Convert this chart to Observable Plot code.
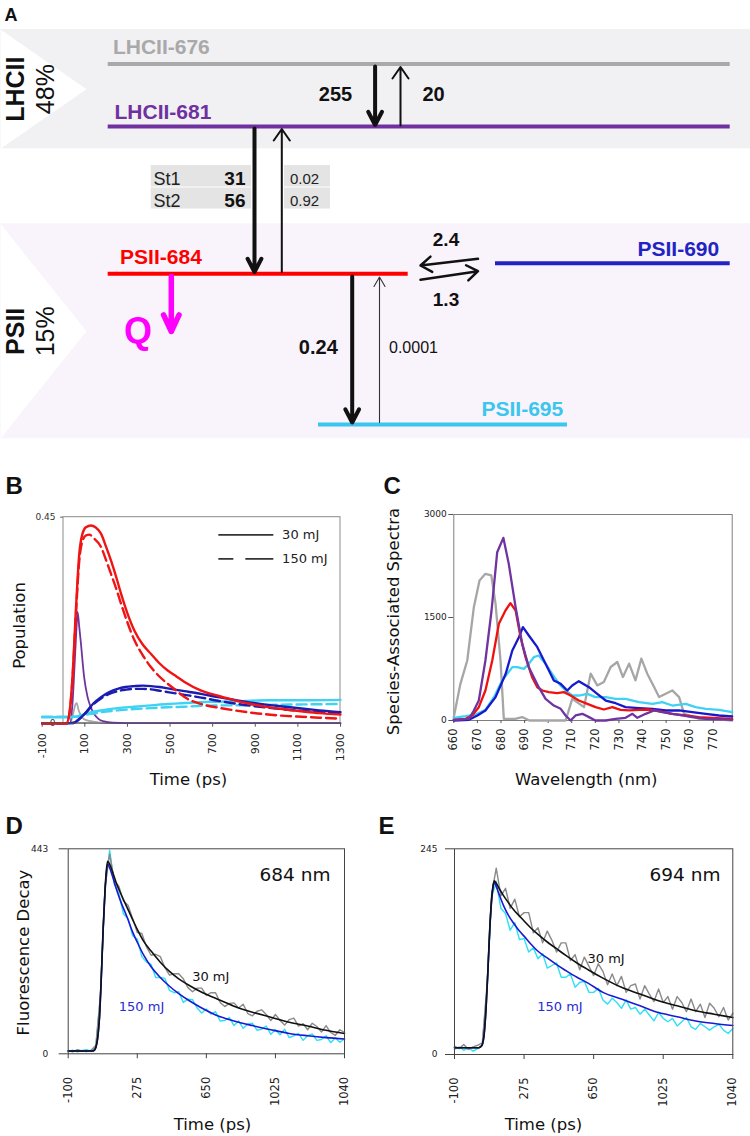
<!DOCTYPE html>
<html><head><meta charset="utf-8">
<script src="https://cdn.jsdelivr.net/npm/d3@7"></script>
<script src="https://cdn.jsdelivr.net/npm/@observablehq/plot@0.6"></script>
<style>
body{margin:0;background:#fff;}
#fig{position:relative;width:750px;height:1136px;overflow:hidden;background:#fff;}
#fig > div{position:absolute;}
</style></head><body><div id="fig"></div>
<script>
// ================= DATA =================
// ---- Panel A (kinetic scheme) ----
const levelNames  = ["LHCII-676","LHCII-681","PSII-684","PSII-690","PSII-695"];
const levelColors = ["#a9a9a9","#7030a0","#ff0000","#2323c4","#3ac6ee"];
const levelY  = [63.5, 126, 273.3, 262.7, 424];
const levelX1 = [107.7, 107.7, 107.7, 495, 318];
const levelX2 = [729.7, 729.7, 407.7, 729.7, 567];
const labelX  = [112.4, 114, 119.6, 718.7, 481];
const labelY  = [53.3, 118.5, 263.5, 255, 415];
const labelAnchor = ["start","start","start","end","start"];

const bandNames  = ["LHCII","PSII"];
const bandShares = ["48%","15%"];
const bandTop    = [29, 223.3];
const bandBottom = [148.3, 438.3];
const bandFill   = ["#f1f0f3","#f9f3fb"];

const arrowFrom  = [[374.6,66],[400,125],[254,128],[281.3,271.5],[351.7,276],[379,422],[170.8,276],[477.5,258.3],[420,279.3]];
const arrowTo    = [[374.6,124.5],[400,66.5],[254,271.5],[281.3,128.5],[351.7,422],[379,276.5],[170.8,331],[420,265],[477.5,270.7]];
const arrowWidth = [4,2,4,2,4,1.1,5.5,2.5,2.5];
const arrowHead  = [5.6,10.5,5.6,10.5,5.6,15,6.5,8,8];
const arrowAngle = [55,70,55,70,55,60,50,70,70];
const arrowColor = ["#111","#111","#111","#111","#111","#333","#ff00ff","#111","#111"];

const rateText   = ["255","20","2.4","1.3","0.24","0.0001"];
const rateX      = [351.7, 422, 445.5, 445.5, 337.3, 388.5];
const rateY      = [100, 100, 245, 305, 353, 352];
const rateAnchor = ["end","start","middle","middle","end","start"];
const rateWeight = ["bold","bold","bold","bold","bold","normal"];
const rateSize   = [20,20,19,19,20,16];

const stateNames = ["St1","St2"];
const stateDown  = ["31","56"];
const stateUp    = ["0.02","0.92"];
const rowTop     = [165, 187.5];
const rowBottom  = [186.5, 208.5];

// ---- Panel B (populations) ----
const bTicks = [-100,100,300,500,700,900,1100,1300];
const bYTicks = [0, 0.45];
const b684T30  = [-100,15,30,42,58,74,89,105,129,150,176,200,223,250,270,300,333,370,411,450,489,530,568,646,725,803,880,960,1040,1117,1200,1300];
const b684_30  = [0,0,0.03,0.10,0.246,0.37,0.414,0.428,0.432,0.428,0.414,0.385,0.355,0.315,0.283,0.24,0.202,0.173,0.151,0.131,0.115,0.102,0.090,0.071,0.060,0.050,0.042,0.035,0.030,0.026,0.022,0.019];
const b684T150 = [-100,15,30,42,58,74,89,105,121,140,176,200,223,250,270,300,333,370,411,450,489,530,568,646,725,803,880,960,1040,1117,1200,1300];
const b684_150 = [0,0,0.028,0.095,0.235,0.355,0.398,0.41,0.412,0.405,0.385,0.356,0.326,0.29,0.261,0.22,0.181,0.15,0.122,0.102,0.086,0.071,0.057,0.042,0.034,0.028,0.023,0.019,0.016,0.014,0.012,0.010];
const b690T    = [-100,30,50,66,90,113,140,176,215,254,290,333,372,411,450,489,568,646,725,803,880,960,1040,1117,1200,1300];
const b690_30  = [0,0,0.001,0.006,0.016,0.028,0.043,0.057,0.068,0.075,0.079,0.081,0.082,0.081,0.079,0.076,0.070,0.064,0.057,0.051,0.045,0.040,0.036,0.032,0.028,0.024];
const b690_150 = [0,0,0.001,0.006,0.016,0.027,0.041,0.054,0.064,0.070,0.073,0.075,0.075,0.074,0.071,0.068,0.062,0.056,0.049,0.043,0.038,0.034,0.030,0.027,0.024,0.022];
const b695T    = [-100,0,30,50,66,97,140,176,254,333,411,489,568,646,725,803,960,1117,1300];
const b695_30  = [0.013,0.013,0.013,0.014,0.015,0.020,0.025,0.028,0.033,0.036,0.039,0.042,0.044,0.046,0.047,0.048,0.050,0.050,0.051];
const b695_150 = [0.014,0.014,0.014,0.014,0.015,0.018,0.021,0.024,0.028,0.031,0.033,0.035,0.036,0.038,0.039,0.039,0.040,0.041,0.042];
const b681T    = [-100,30,42,53,60,66,74,82,97,113,130,144,165,191,230,300,1300];
const b681     = [0,0,0.042,0.137,0.2,0.243,0.21,0.173,0.10,0.057,0.033,0.020,0.009,0.004,0.001,0,0];
const b676T    = [-100,30,45,55,62,70,80,95,120,150,200,1300];
const b676     = [0,0,0.02,0.04,0.044,0.03,0.018,0.009,0.005,0.003,0,0];
const legendLabels = ["30 mJ","150 mJ"];
const legendY = [0.4115, 0.359];

// ---- Panel C (species-associated spectra) ----
const cTicks = [660,670,680,690,700,710,720,730,740,750,760,770];
const cYTicks = [0,1500,3000];
const c676W = [660,662.8,665.7,668.5,670.9,673.4,675.9,677.7,679.8,681.2,686,689,692,700,707.4,710.2,715.2,718,720.8,723.6,726.5,729.3,731.7,734.3,737,739.5,742,745,747,749.8,752.6,755.5,757.6,761,764,770,778];
const c676  = [49,534,874,1650,2039,2136,2112,1699,874,24,24,50,0,0,0,316,195,682,511,560,779,852,633,828,584,901,682,480,341,390,438,341,97,60,24,24,0];
const c681W = [660,666.4,668.5,670.6,673.4,676,678.4,681,683.3,686.2,689,691.8,696,698.9,702.4,705.3,707.4,709.5,711.6,714.5,717.3,720,724.4,728.6,732.8,735.7,737.8,741.3,744.9,748.4,752.6,756.9,761,766.8,778];
const c681  = [10,24,146,291,874,1602,2451,2660,2281,1650,1116,777,485,316,218,170,73,0,73,97,49,0,0,24,39,97,39,97,146,121,97,73,49,24,10];
const c684W = [660,665,667.8,670.6,673.4,676.3,679.1,681.9,684,686.2,688.3,690.4,693.2,695.4,697.5,700.3,703.8,706.7,709.5,713,716.6,720.1,723.6,727.2,730.7,734.3,738.5,742.7,747,752.6,758.3,764,769.6,778];
const c684  = [10,24,73,194,437,874,1408,1602,1709,1602,1214,922,631,485,437,413,398,413,364,291,243,194,160,194,155,146,155,160,136,97,73,49,39,24];
const c690W = [660,666.4,670,673.4,677.7,682,684.8,687.6,689.3,691.8,695.4,698.9,702.4,705.3,708.1,710.2,713,717.3,720.8,724.4,728.6,732.8,738.5,744.2,749.8,755.5,761.1,766.8,772.4,778];
const c690  = [0,10,73,146,340,680,1019,1214,1359,1238,1068,825,583,534,437,510,573,485,388,291,252,194,180,170,146,146,121,97,73,58];
const c695W = [660,665,669.2,673.4,677,680.5,684.8,686.9,689.7,691.8,693.9,696,698.9,701.7,704.6,707.4,710.2,713,716.6,720,724.4,728.6,732.8,738.5,744.2,748.4,752.6,758.3,762.5,766.8,772.4,778];
const c695  = [39,63,87,155,340,583,777,777,752,825,922,947,825,680,534,437,364,364,388,340,340,316,316,267,243,267,218,243,194,170,155,121];

// ---- Panels D & E (fluorescence decays) ----
const deTicks = [-100,275,650,1025,1400];
const deTickLabels = ["-100","275","650","1025","1040"];
const tFit = [-100,0,30,40,50,60,70,80,90,100,107,114,125,140,165,190,220,250,275,310,350,400,450,500,560,620,700,800,900,1000,1100,1200,1300,1400];
const dFit30  = [6,6,6,7,14,35,80,170,275,355,396,416,410,394,365,342,316,290,269,243,222,198,178,162,147,134,120,103,90,79,68,60,51,44];
const dFit150 = [6,6,6,7,13,33,78,166,270,350,390,410,402,384,352,324,295,263,241,213,188,165,146,130,114,100,84,71,61,52,44,39,35,32];
const eFit30  = [8,8,8,9,12,25,55,100,150,185,200,207,204,198,189,181,172,165,159,151,143,134,126,118,109,101,91,80,72,64,58,52,48,44];
const eFit150 = [8,8,8,9,12,24,54,98,148,183,198,205,200,191,177,166,156,147,141,132,123,115,107,100,92,85,74,66,58,50,45,40,37,34.5];
const tData = d3.range(-100, 1401, 25);
const dData30  = [7,4,9,6,5,8,18,128,360,432,374,362,330,321,292,262,260,231,213,215,210,186,170,173,173,162,143,134,142,142,126,132,132,111,102,109,110,99,107,87,82,92,95,85,72,85,72,62,74,77,60,65,52,66,59,47,61,46,40,52,46];
const dData150 = [5,8,4,7,9,5,15,125,358,440,366,347,302,292,255,248,210,198,193,165,165,163,137,132,134,111,118,117,99,88,97,86,91,71,72,78,61,71,55,64,66,51,53,60,42,52,41,53,35,39,44,29,39,43,29,31,39,24,34,25,32];
const eData30  = [10,7,12,6,9,11,14,82,191,222,189,198,174,185,164,169,169,145,151,133,147,136,122,133,133,112,119,101,116,105,94,108,99,83,96,82,93,74,82,84,66,82,72,63,78,62,69,54,69,62,51,66,51,60,44,61,55,45,56,41,49];
const eData150 = [6,9,5,8,4,7,11,79,187,206,174,168,148,157,137,138,122,127,114,120,103,106,109,92,92,96,80,86,87,74,74,79,65,60,67,62,55,65,54,56,48,54,47,40,50,43,39,43,34,39,44,33,30,37,33,29,33,36,29,25,31];

// ================= HELPERS =================
const pts = (xs, ys) => xs.map((x, i) => ({x, y: ys[i]}));
const SANS = "DejaVu Sans, Verdana, sans-serif";
const ARIAL = "Liberation Sans, Arial, Helvetica, sans-serif";
const ann = (txt, dx, dy, o = {}) => Plot.text([txt], {frameAnchor: "top-left", text: d => d, dx, dy,
  textAnchor: "middle", lineAnchor: "bottom", fill: "#111", fontFamily: SANS, ...o});
const fig = document.getElementById("fig");
function place(el, left, top) {
  const d = document.createElement("div");
  d.style.left = left + "px"; d.style.top = top + "px";
  d.appendChild(el); fig.appendChild(d);
}
const baseStyle = {fontFamily: SANS, background: "transparent", overflow: "visible", color: "#222"};

// ================= PANEL A =================
{
  const levels = levelNames.map((n, i) => ({n, c: levelColors[i], y: levelY[i], x1: levelX1[i], x2: levelX2[i], lx: labelX[i], ly: labelY[i], a: labelAnchor[i]}));
  const bands = bandNames.map((n, i) => ({n, s: bandShares[i], t: bandTop[i], b: bandBottom[i], f: bandFill[i], m: (bandTop[i] + bandBottom[i]) / 2}));
  const chev = bands.flatMap(b => [{z: b.n, x: 0, y: b.t}, {z: b.n, x: 86, y: b.m}, {z: b.n, x: 0, y: b.b}]);
  const rows = stateNames.map((n, i) => ({n, d: stateDown[i], u: stateUp[i], t: rowTop[i], b: rowBottom[i]}));
  const marks = [
    Plot.rect(bands, {x1: 0, x2: 750, y1: "t", y2: "b", fill: "f"}),
    Plot.line(chev, {x: "x", y: "y", z: "z", fill: "white", stroke: "none"}),
    Plot.text(bands, {x: 15.5, y: d => d.m, text: "n", rotate: -90, fontSize: 25, fontWeight: "bold", fontFamily: ARIAL, fill: "#111"}),
    Plot.text(bands, {x: 45, y: d => d.m, text: "s", rotate: -90, fontSize: 25, fontFamily: ARIAL, fill: "#111"}),
    Plot.rect(rows, {x1: 150.7, x2: 251, y1: "t", y2: "b", fill: "#e4e4e4"}),
    Plot.rect(rows, {x1: 284, x2: 330, y1: "t", y2: "b", fill: "#e4e4e4"}),
    Plot.text(rows, {x: 153, y: d => d.b - 2.5, text: "n", textAnchor: "start", lineAnchor: "bottom", fontSize: 18, fontFamily: ARIAL, fill: "#222"}),
    Plot.text(rows, {x: 245, y: d => d.b - 2.5, text: "d", textAnchor: "end", lineAnchor: "bottom", fontSize: 19, fontWeight: "bold", fontFamily: ARIAL, fill: "#111"}),
    Plot.text(rows, {x: 289.5, y: d => d.b - 3.5, text: "u", textAnchor: "start", lineAnchor: "bottom", fontSize: 15, fontFamily: ARIAL, fill: "#222"}),
    Plot.ruleY(levels, {y: "y", x1: "x1", x2: "x2", stroke: "c", strokeWidth: 4}),
    ...["start", "end"].map(anchor => Plot.text(levels.filter(l => l.a === anchor), {x: "lx", y: "ly", text: "n", fill: "c",
      textAnchor: anchor, lineAnchor: "bottom", fontSize: 21, fontWeight: "bold", fontFamily: ARIAL})),
    ...arrowFrom.map((f, i) => Plot.arrow([i], {x1: f[0], y1: f[1], x2: arrowTo[i][0], y2: arrowTo[i][1],
      stroke: arrowColor[i], strokeWidth: arrowWidth[i], headLength: arrowHead[i], headAngle: arrowAngle[i]})),
    ...rateText.map((t, i) => Plot.text([t], {x: rateX[i], y: rateY[i], text: d => d, textAnchor: rateAnchor[i], lineAnchor: "bottom",
      fontSize: rateSize[i], fontWeight: rateWeight[i], fontFamily: ARIAL, fill: "#111"})),
    Plot.text(["Q"], {x: 137.5, y: 342, text: d => d, lineAnchor: "bottom", fontSize: 36, fontWeight: "bold", fontFamily: ARIAL, fill: "#ff00ff"}),
    Plot.text(["A"], {x: 4, y: 20, text: d => d, textAnchor: "start", lineAnchor: "bottom", fontSize: 18, fontWeight: "bold", fontFamily: ARIAL, fill: "#111"})
  ];
  const A = Plot.plot({width: 750, height: 445, margin: 0,
    x: {domain: [0, 750], range: [0, 750], axis: null},
    y: {domain: [0, 445], range: [0, 445], axis: null},
    color: {type: "identity"},
    style: baseStyle, marks});
  place(A, 0, 0);
}

// ================= PANEL B =================
{
  const red = "#f01414", blue = "#1c1cb0", cyan = "#3fd2f2", purple = "#7034a0", gray = "#a8a8a8";
  const L = (t, v, stroke, o = {}) => Plot.line(pts(t, v), {x: "x", y: "y", stroke, strokeWidth: 2.4, curve: "monotone-x", ...o});
  const B = Plot.plot({width: 375, height: 300, marginLeft: 41.7, marginRight: 35, marginTop: 16.7, marginBottom: 77.3,
    x: {domain: [-100, 1300], label: null}, y: {domain: [0, 0.45], label: null, axis: null},
    style: baseStyle,
    marks: [
      Plot.rect([0], {x1: 0, x2: 1300, y1: 0, y2: 0.45, fill: "none", stroke: "#8c8c8c"}),
      Plot.axisX({ticks: bTicks, tickFormat: d => String(d), tickRotate: -90, tickSize: 4, tickPadding: 6, fontSize: 11, label: null, stroke: "#555"}),
      Plot.ruleY(bYTicks, {x1: -14, x2: 0, stroke: "#666"}),
      Plot.text(bYTicks, {x: 0, y: d => d, text: d => String(d), dx: -8, textAnchor: "end", fontSize: 9, fill: "#333"}),
      L(b676T, b676, gray, {strokeWidth: 1.8}),
      L(b681T, b681, purple, {strokeWidth: 1.8}),
      L(b695T, b695_150, cyan, {strokeDasharray: "10,5"}),
      L(b695T, b695_30, cyan),
      L(b690T, b690_150, blue, {strokeDasharray: "10,5"}),
      L(b690T, b690_30, blue),
      L(b684T150, b684_150, red, {strokeDasharray: "10,5"}),
      L(b684T30, b684_30, red),
      Plot.ruleY([0], {stroke: "#555"}),
      Plot.ruleY([legendY[0]], {x1: 729, x2: 987, stroke: "#333", strokeWidth: 1.8}),
      Plot.ruleY([legendY[1]], {x1: 729, x2: 987, stroke: "#333", strokeWidth: 1.8, strokeDasharray: "15,12,30"}),
      Plot.text(legendLabels, {x: 1026, y: (d, i) => legendY[i], text: d => d, textAnchor: "start", fontSize: 13, fill: "#222"}),
      ann("Time (ps)", 146.3, 267.3, {fontSize: 16.5}),
      ann("Population", -22.7, 108.3, {fontSize: 16.5, rotate: -90, lineAnchor: "middle"}),
      ann("B", -36.7, -23.7, {textAnchor: "start", fontSize: 24, fontWeight: "bold", fontFamily: ARIAL})
    ]});
  place(B, 0, 500);
}

// ================= PANEL C =================
{
  const L = (w, v, stroke) => Plot.line(pts(w, v), {x: "x", y: "y", stroke, strokeWidth: 2.3, strokeLinejoin: "round"});
  const C = Plot.plot({width: 375, height: 300, marginLeft: 78.3, marginRight: 18.3, marginTop: 14, marginBottom: 80,
    x: {domain: [660, 778], label: null}, y: {domain: [0, 3000], label: null},
    style: baseStyle,
    marks: [
      Plot.frame({stroke: "#7f7f7f"}),
      Plot.axisX({ticks: cTicks, tickFormat: d => String(d), tickRotate: -90, tickSize: 3, tickPadding: 5, fontSize: 11.5, label: null, stroke: "#555"}),
      Plot.axisY({ticks: cYTicks, tickFormat: d => String(d), tickSize: 5, tickPadding: 2, fontSize: 9, label: null, stroke: "#555"}),
      L(c676W, c676, "#a6a6a6"),
      L(c695W, c695, "#3fd2f2"),
      L(c690W, c690, "#1818cc"),
      L(c684W, c684, "#f01010"),
      L(c681W, c681, "#7034a0"),
      ann("Wavelength (nm)", 132.4, 270, {fontSize: 16.5}),
      ann("Species-Associated Spectra", -59.8, 107, {fontSize: 16.5, rotate: -90, lineAnchor: "middle"}),
      ann("C", -70.3, -21, {textAnchor: "start", fontSize: 24, fontWeight: "bold", fontFamily: ARIAL})
    ]});
  place(C, 375, 500);
}

// ================= PANELS D & E =================
function decay(fit30, fit150, data30, data150, ymax, lab, o) {
  return Plot.plot({width: 375, height: 296, marginLeft: o.ml, marginRight: o.mr, marginTop: 8.3, marginBottom: o.mb,
    x: {domain: [-100, 1400], label: null}, y: {domain: [0, ymax], label: null},
    style: baseStyle,
    marks: [
      Plot.axisX({ticks: deTicks, tickFormat: d => deTickLabels[deTicks.indexOf(d)], tickRotate: -90, tickSize: 5, tickPadding: 18, fontSize: 11.5, label: null, stroke: "#444"}),
      Plot.axisY({ticks: [0, ymax], tickFormat: d => String(d), tickSize: 9, tickPadding: o.tp, fontSize: 9, label: null, stroke: "#444"}),
      Plot.line(pts(tData, data150), {x: "x", y: "y", stroke: "#2ee0f6", strokeWidth: 1.4}),
      Plot.line(pts(tData, data30), {x: "x", y: "y", stroke: "#8a8a8a", strokeWidth: 1.4}),
      Plot.line(pts(tFit, fit150), {x: "x", y: "y", stroke: "#1a1ad0", strokeWidth: 1.6, curve: "monotone-x"}),
      Plot.line(pts(tFit, fit30), {x: "x", y: "y", stroke: "#111", strokeWidth: 1.6, curve: "monotone-x"}),
      Plot.frame({stroke: "#444"}),
      ann(lab, o.labX, 31.7, {textAnchor: "end", fontSize: 18.5}),
      ann("30 mJ", o.x30, o.y30, {textAnchor: "start", fontSize: 13}),
      ann("150 mJ", o.x150, 161.7, {textAnchor: "start", fontSize: 13, fill: "#2a2ad6"}),
      ann("Time (ps)", o.tx, 280.7, {fontSize: 16.5}),
      ...(o.ylab ? [ann(o.ylab, -44.7, 103.7, {fontSize: 16.5, rotate: -90, lineAnchor: "middle"})] : []),
      ann(o.letter, o.lx, -15.3, {textAnchor: "start", fontSize: 24, fontWeight: "bold", fontFamily: ARIAL})
    ]});
}
place(decay(dFit30, dFit150, dData30, dData150, 443, "684 nm",
  {ml: 67.7, mr: 31, mb: 82.7, tp: 11, labX: 262.3, x30: 124, y30: 132, x150: 50.6, tx: 144.3, ylab: "Fluorescence Decay", letter: "D", lx: -62.7}), 0, 840);
place(decay(eFit30, eFit150, eData30, eData150, 245, "694 nm",
  {ml: 79, mr: 17.7, mb: 82, tp: 8, labX: 266, x30: 133, y30: 114, x150: 82.7, tx: 89, ylab: null, letter: "E", lx: -76}), 375, 840);
</script></body></html>
